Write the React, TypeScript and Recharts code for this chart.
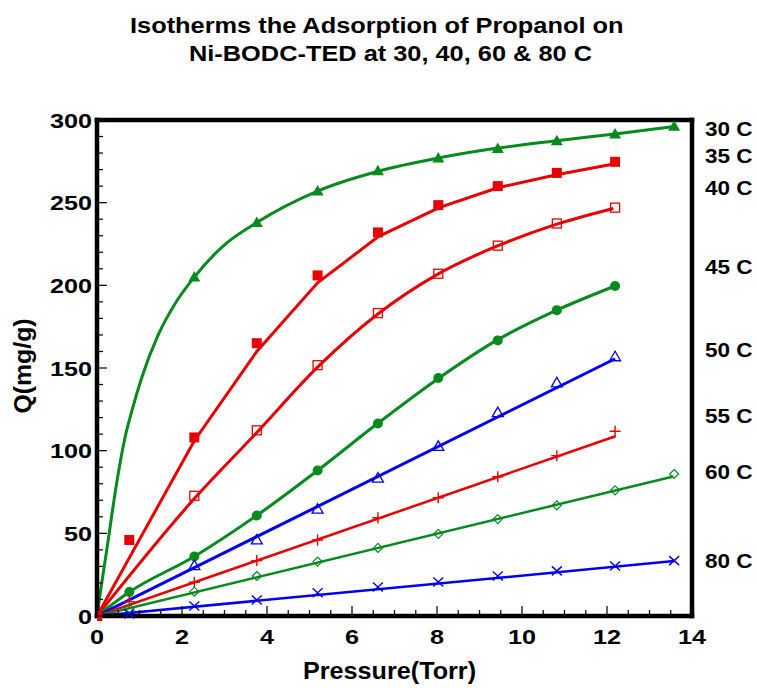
import { ComposedChart, Line, Scatter, XAxis, YAxis, ReferenceLine, Label } from "recharts";

const GREEN = "#058a1e";
const RED = "#e60000";
const BLUE = "#0000ee";
const FONT = "'Liberation Sans', Arial, sans-serif";

// measured pressures (Torr), shared by all isotherms
const pressure = [0, 0.76, 2.29, 3.76, 5.19, 6.61, 8.03, 9.43, 10.82, 12.19, 13.58];

// measured uptake Q (mg/g); null where a temperature has no point
const q30 = [0, null, 205, 238, 257, 269.3, 277, 282.8, 287.5, 291.5, 296.2];
const q35 = [0, 46, 108, 165, 206, 232, 248.5, 260, 268, 274.7, null];
const q40 = [null, null, 72.7, 112.3, 151.7, 183.2, 207, 224, 237.4, 247, null];
const q45 = [null, 14.5, 36, 60.8, 88, 116.4, 144, 166.7, 185, 199.6, null];
const q50 = [null, null, 30.5, 46, 64.6, 83.4, 102.6, 123, 141, 156.8, null];
const q55 = [null, 8.7, 20.4, 33.5, 46, 59.4, 71.5, 84.2, 97, 111.7, null];
const q60 = [null, 4.6, 14.7, 24.2, 32.9, 41.2, 49.7, 58.6, 66.9, 76, 85.9];
const q80 = [null, 1.2, 6, 9.7, 14.1, 17.6, 20.6, 24.2, 27.3, 30.3, 33.5];

// fitted model curves
const fitP30 = [0, 0.1, 0.23, 0.46, 0.66, 0.82, 1.05, 1.44, 1.84, 2.29, 3.0, 3.76, 5.19, 6.62, 8.03, 9.43, 10.82, 12.19, 13.58];
const fitQ30 = [0, 18, 40, 80, 108, 124, 144, 170, 189, 205, 224.5, 238, 257, 269, 277, 283, 287.5, 291.5, 296];
const fitP35 = [0, 2.29, 3.76, 5.19, 6.62, 8.05, 9.43, 10.84, 12.19];
const fitQ35 = [0, 106, 160, 201.5, 229.5, 247, 259, 267, 273.5];
const fitP40 = [0, 2.29, 3.76, 5.19, 6.6, 8.0, 9.42, 10.82, 12.15];
const fitQ40 = [0, 71, 111, 150.5, 182.5, 206.5, 223.8, 237, 246.5];
const fitP45 = [0, 0.76, 2.29, 3.76, 5.19, 6.6, 8.05, 9.4, 10.82, 12.19];
const fitQ45 = [0, 14.5, 36, 60.8, 88, 116.4, 144, 166.7, 185, 199.6];
const fitP50 = [0, 12.19];
const fitQ50 = [0, 155.6];
const fitP55 = [0, 12.2];
const fitQ55 = [0, 108.7];
const fitP60 = [0, 13.56];
const fitQ60 = [0, 84.4];
const fitP80 = [0, 13.58];
const fitQ80 = [0, 33.2];

// temperature tags on the right edge, placed at these Q levels
const tagNames = ["30 C", "35 C", "40 C", "45 C", "50 C", "55 C", "60 C", "80 C"];
const tagQ = [295, 278.8, 259, 211.2, 161.2, 121.5, 87.3, 33.6];

const xMajor = [0, 2, 4, 6, 8, 10, 12, 14];
const yMajor = [0, 50, 100, 150, 200, 250, 300];
const xTicks: number[] = [];
for (let i = 0; i <= 28; i++) xTicks.push(i / 2);
const yTicks: number[] = [];
for (let i = 0; i <= 30; i++) yTicks.push(i * 10);

const points = (qs: (number | null)[]) =>
  pressure.map((p, i) => ({ p, q: qs[i] })).filter((d) => d.q !== null);
const curve = (ps: number[], qs: number[]) => ps.map((p, i) => ({ p, q: qs[i] }));

function wideText(x: number, y: number, s: number, size: number, anchor: string, txt: string | number) {
  return (
    <text
      transform={`translate(${x},${y}) scale(${s},1)`}
      textAnchor={anchor}
      fontSize={size}
      fontWeight="bold"
      fontFamily={FONT}
      fill="#000"
    >
      {txt}
    </text>
  );
}

const TICK = "#111";

function BottomTick({ x, y, payload }: any) {
  const major = xMajor.includes(payload.value);
  return (
    <g>
      <line x1={x} x2={x} y1={y} y2={y - (major ? 10 : 6)} stroke={TICK} strokeWidth={1.3} />
      {major && wideText(x, y + 28, 1.2, 21, "middle", payload.value)}
    </g>
  );
}

function TopTick({ x, y, payload }: any) {
  const major = xMajor.includes(payload.value);
  return <line x1={x} x2={x} y1={y} y2={y + (major ? 10 : 6)} stroke={TICK} strokeWidth={1.3} />;
}

function LeftTick({ x, y, payload }: any) {
  const major = yMajor.includes(payload.value);
  return (
    <g>
      <line x1={x} x2={x + (major ? 10 : 6)} y1={y} y2={y} stroke={TICK} strokeWidth={1.3} />
      {major && wideText(x - 5, y + 7.5, 1.2, 21, "end", payload.value)}
    </g>
  );
}

function RightTick({ x, y, payload }: any) {
  const major = yMajor.includes(payload.value);
  return <line x1={x} x2={x - (major ? 10 : 6)} y1={y} y2={y} stroke={TICK} strokeWidth={1.3} />;
}

// marker shapes
const triFill = (c: string) => ({ cx, cy }: any) => (
  <polygon points={`${cx},${cy - 6} ${cx - 6},${cy + 4.5} ${cx + 6},${cy + 4.5}`} fill={c} />
);
const triOpen = (c: string) => ({ cx, cy }: any) => (
  <polygon points={`${cx},${cy - 5.5} ${cx - 5.5},${cy + 4} ${cx + 5.5},${cy + 4}`} fill="none" stroke={c} strokeWidth={1.3} />
);
const sqFill = (c: string) => ({ cx, cy }: any) => <rect x={cx - 5} y={cy - 5} width={10} height={10} fill={c} />;
const sqOpen = (c: string) => ({ cx, cy }: any) => (
  <rect x={cx - 4.5} y={cy - 4.5} width={9} height={9} fill="none" stroke={c} strokeWidth={1.3} />
);
const dot = (c: string) => ({ cx, cy }: any) => <circle cx={cx} cy={cy} r={5} fill={c} />;
const plus = (c: string) => ({ cx, cy }: any) => (
  <path d={`M${cx - 5.5},${cy}H${cx + 5.5}M${cx},${cy - 5.5}V${cy + 5.5}`} stroke={c} strokeWidth={1.4} />
);
const diamond = (c: string) => ({ cx, cy }: any) => (
  <polygon points={`${cx},${cy - 4.5} ${cx + 4.5},${cy} ${cx},${cy + 4.5} ${cx - 4.5},${cy}`} fill="none" stroke={c} strokeWidth={1.2} />
);
const cross = (c: string) => ({ cx, cy }: any) => (
  <path d={`M${cx - 5},${cy - 4.5}L${cx + 5},${cy + 4.5}M${cx - 5},${cy + 4.5}L${cx + 5},${cy - 4.5}`} stroke={c} strokeWidth={1.4} />
);

const fits = [
  { id: "f30", d: curve(fitP30, fitQ30), c: GREEN, w: 3, t: "monotone" },
  { id: "f35", d: curve(fitP35, fitQ35), c: RED, w: 3, t: "linear" },
  { id: "f40", d: curve(fitP40, fitQ40), c: RED, w: 3, t: "monotone" },
  { id: "f45", d: curve(fitP45, fitQ45), c: GREEN, w: 3, t: "monotone" },
  { id: "f50", d: curve(fitP50, fitQ50), c: BLUE, w: 3, t: "linear" },
  { id: "f55", d: curve(fitP55, fitQ55), c: RED, w: 2.5, t: "linear" },
  { id: "f60", d: curve(fitP60, fitQ60), c: GREEN, w: 2.5, t: "linear" },
  { id: "f80", d: curve(fitP80, fitQ80), c: BLUE, w: 2.5, t: "linear" },
];

const marks = [
  { id: "m30", d: points(q30), s: triFill(GREEN) },
  { id: "m40", d: points(q40), s: sqOpen(RED) },
  { id: "m45", d: points(q45), s: dot(GREEN) },
  { id: "m50", d: points(q50), s: triOpen(BLUE) },
  { id: "m55", d: points(q55), s: plus(RED) },
  { id: "m60", d: points(q60), s: diamond(GREEN) },
  { id: "m80", d: points(q80), s: cross(BLUE) },
  { id: "m35", d: points(q35), s: sqFill(RED) },
];

const frame = { stroke: "#000", strokeWidth: 4.5, strokeLinecap: "square" as const };

export default function App() {
  return (
    <div style={{ position: "relative", width: 757, height: 688, background: "#fff" }}>
      <style>{"body{margin:0}"}</style>
      <svg width={757} height={120} style={{ position: "absolute", left: 0, top: 0 }}>
        {wideText(130, 33, 1.18, 21.5, "start", "Isotherms the Adsorption of Propanol on")}
        {wideText(189, 61, 1.18, 21.5, "start", "Ni-BODC-TED at 30, 40, 60 & 80 C")}
      </svg>
      <ComposedChart width={757} height={688} margin={{ top: 0, right: 0, bottom: 0, left: 0 }}>
        <XAxis
          type="number"
          dataKey="p"
          domain={[0, 14]}
          ticks={xTicks}
          interval={0}
          height={72}
          axisLine={frame}
          tickLine={false}
          tickSize={0}
          tickMargin={0}
          tick={<BottomTick />}
          allowDataOverflow
        >
          <Label
            content={({ viewBox }: any) =>
              wideText(viewBox.x + viewBox.width / 2 - 5, viewBox.y + 63, 1.05, 24, "middle", "Pressure(Torr)")
            }
          />
        </XAxis>
        <XAxis
          xAxisId="top"
          orientation="top"
          type="number"
          dataKey="p"
          domain={[0, 14]}
          ticks={xTicks}
          interval={0}
          height={120}
          axisLine={frame}
          tickLine={false}
          tickSize={0}
          tickMargin={0}
          tick={<TopTick />}
        />
        <YAxis
          type="number"
          dataKey="q"
          domain={[0, 300]}
          ticks={yTicks}
          interval={0}
          width={97}
          axisLine={frame}
          tickLine={false}
          tickSize={0}
          tickMargin={0}
          tick={<LeftTick />}
        >
          <Label
            content={({ viewBox }: any) => (
              <g transform={`translate(31,${viewBox.y + viewBox.height / 2 - 2}) rotate(-90)`}>
                {wideText(0, 0, 1.08, 23, "middle", "Q(mg/g)")}
              </g>
            )}
          />
        </YAxis>
        <YAxis
          yAxisId="right"
          orientation="right"
          type="number"
          domain={[0, 300]}
          ticks={yTicks}
          interval={0}
          width={65}
          axisLine={frame}
          tickLine={false}
          tickSize={0}
          tickMargin={0}
          tick={<RightTick />}
        />
        {fits.map((f) => (
          <Line
            key={f.id}
            data={f.d}
            dataKey="q"
            type={f.t as any}
            stroke={f.c}
            strokeWidth={f.w}
            dot={false}
            activeDot={false}
            isAnimationActive={false}
          />
        ))}
        {marks.map((m) => (
          <Scatter key={m.id} data={m.d} dataKey="q" shape={m.s} isAnimationActive={false} />
        ))}
        {tagNames.map((name, i) => (
          <ReferenceLine
            key={name}
            y={tagQ[i]}
            stroke="none"
            label={({ viewBox }: any) => wideText(viewBox.x + viewBox.width + 13, viewBox.y + 7.5, 1.1, 20.5, "start", name)}
          />
        ))}
      </ComposedChart>
    </div>
  );
}
